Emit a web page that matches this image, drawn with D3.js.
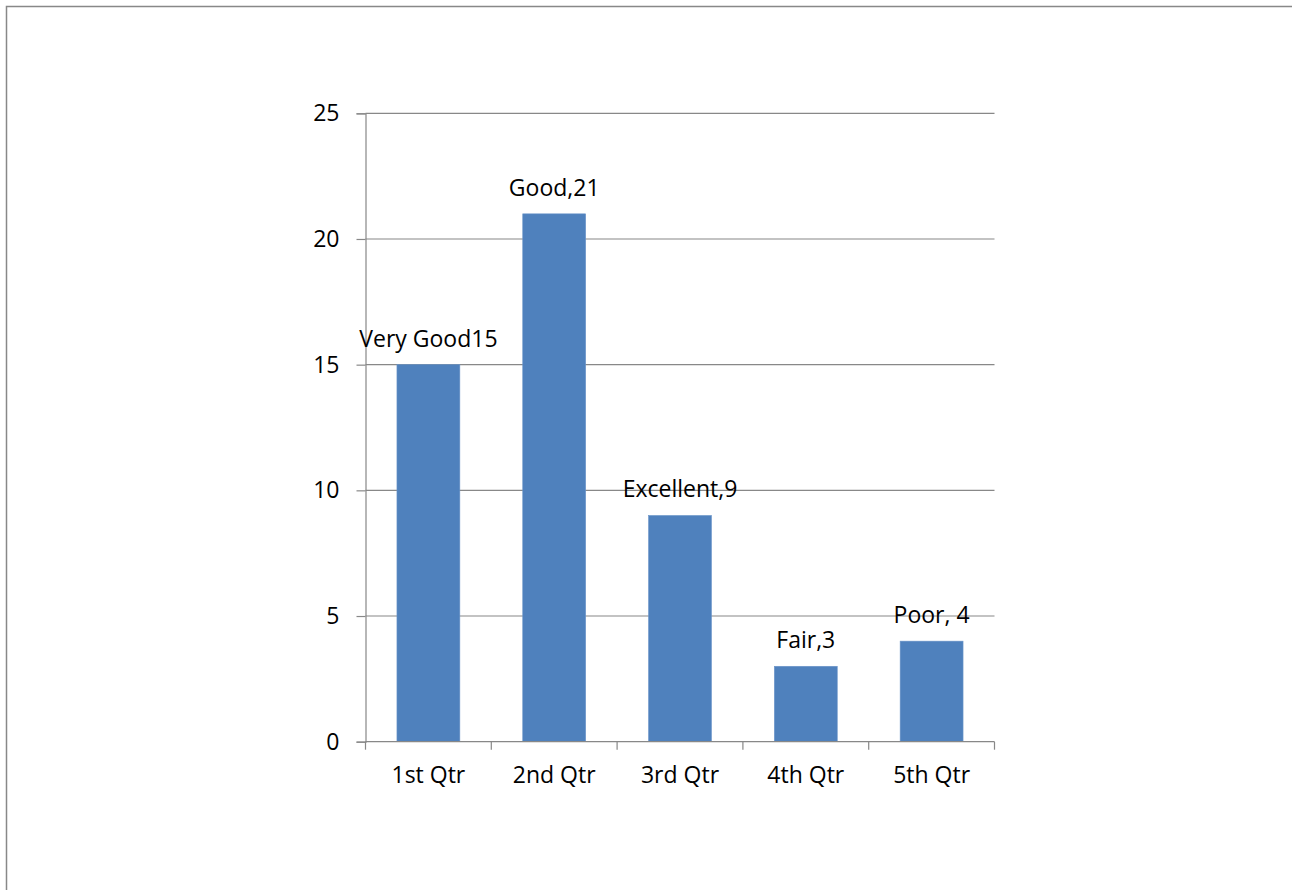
<!DOCTYPE html>
<html>
<head>
<meta charset="utf-8">
<script src="https://cdn.jsdelivr.net/npm/d3@7"></script>
<style>
  html, body { margin: 0; padding: 0; background: #fff; }
  svg { display: block; }
  text { font-family: "Open Sans", "Noto Sans", sans-serif; fill: #000; }
</style>
</head>
<body>
<svg id="chart" width="1292" height="890"></svg>
<script>
// Survey ratings by quarter
const categories = ["1st Qtr", "2nd Qtr", "3rd Qtr", "4th Qtr", "5th Qtr"];
const values = [15, 21, 9, 3, 4];
const labels = ["Very Good15", "Good,21", "Excellent,9", "Fair,3", "Poor, 4"];
const yTicks = [0, 5, 10, 15, 20, 25];

const svg = d3.select("#chart");
const W = 1292, H = 890;

// chart-area frame (extends past the right and bottom edges)
svg.append("rect")
  .attr("x", 6.5).attr("y", 6.5)
  .attr("width", W + 20).attr("height", H + 20)
  .attr("fill", "#fff")
  .attr("stroke", "#888")
  .attr("stroke-width", 1.5);

const plot = { left: 365.5, right: 994.5, top: 113.3, bottom: 741.7 };

const x = d3.scaleBand()
  .domain(categories)
  .range([plot.left, plot.right])
  .paddingInner(0.5)
  .paddingOuter(0.25);

const y = d3.scaleLinear()
  .domain([0, 25])
  .range([plot.bottom, plot.top]);

const gridColor = "#888";
const fontSize = 23;

// horizontal gridlines
svg.append("g")
  .selectAll("line")
  .data(yTicks.filter(d => d > 0))
  .join("line")
  .attr("x1", plot.left).attr("x2", plot.right)
  .attr("y1", d => y(d)).attr("y2", d => y(d))
  .attr("stroke", gridColor).attr("stroke-width", 1.2);

// y axis
const yAxis = svg.append("g")
  .attr("transform", `translate(${plot.left},0)`)
  .call(d3.axisLeft(y).tickValues(yTicks).tickSize(9).tickPadding(17).tickFormat(d3.format("d")));
yAxis.select(".domain").attr("stroke", gridColor).attr("stroke-width", 1.2);
yAxis.selectAll(".tick line").attr("stroke", gridColor).attr("stroke-width", 1.2);
yAxis.selectAll(".tick text")
  .attr("font-size", fontSize)
  .attr("font-family", "'Open Sans', 'Noto Sans', sans-serif")
  .attr("fill", "#000");

// bars
svg.append("g")
  .selectAll("rect")
  .data(values)
  .join("rect")
  .attr("x", (d, i) => x(categories[i]))
  .attr("y", d => y(d))
  .attr("width", x.bandwidth())
  .attr("height", d => y(0) - y(d))
  .attr("fill", "#4F81BD")
  .attr("stroke", "#6A94C8")
  .attr("stroke-width", 0.6);

// x axis with ticks at category boundaries
const xAxisG = svg.append("g")
  .attr("transform", `translate(0,${plot.bottom})`);
xAxisG.append("line")
  .attr("x1", plot.left).attr("x2", plot.right)
  .attr("stroke", gridColor).attr("stroke-width", 1.2);
const bounds = categories.map(c => x(c) - x.step() * x.paddingInner() / 2)
  .concat([plot.right]);
xAxisG.selectAll("line.tick")
  .data(bounds)
  .join("line")
  .attr("class", "tick")
  .attr("x1", d => d).attr("x2", d => d)
  .attr("y1", 0).attr("y2", 8)
  .attr("stroke", gridColor).attr("stroke-width", 1.2);
xAxisG.selectAll("text")
  .data(categories)
  .join("text")
  .attr("x", d => x(d) + x.bandwidth() / 2)
  .attr("y", 41.6)
  .attr("text-anchor", "middle")
  .attr("font-size", fontSize)
  .text(d => d);

// data labels above bars
svg.append("g")
  .selectAll("text")
  .data(values)
  .join("text")
  .attr("x", (d, i) => x(categories[i]) + x.bandwidth() / 2)
  .attr("y", d => y(d) - 18)
  .attr("text-anchor", "middle")
  .attr("font-size", fontSize)
  .text((d, i) => labels[i]);
</script>
</body>
</html>
